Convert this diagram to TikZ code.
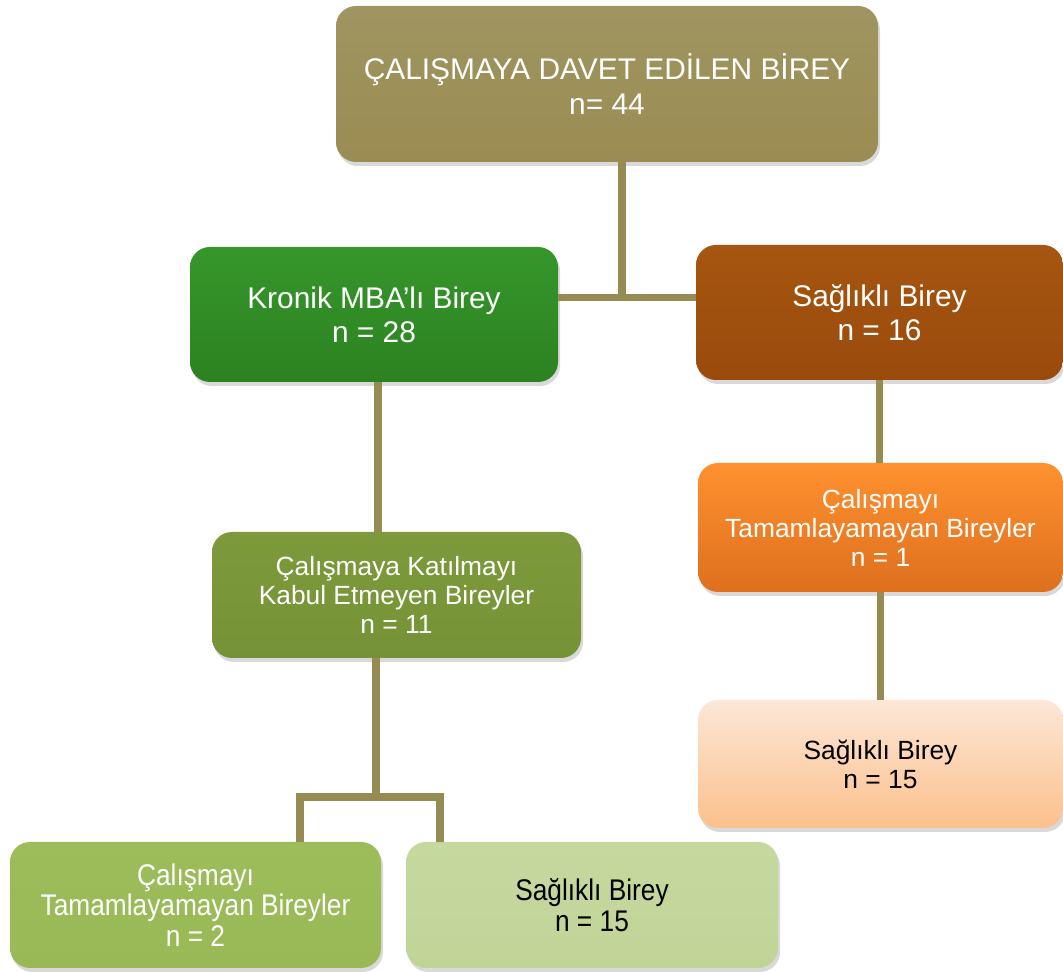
\documentclass[tikz,border=0pt]{standalone}
\usepackage{fontspec}
\setmainfont{Liberation Sans}
\newfontfamily\narrowfont{Liberation Sans}[FakeStretch=0.88]
\usepackage{tikz}
\usetikzlibrary{shadows}
\usepackage{xcolor}

\definecolor{linkcol}{HTML}{968B53}
\definecolor{olivetop}{HTML}{A09561}
\definecolor{olivebot}{HTML}{9A8C52}
\definecolor{greentop}{HTML}{36962B}
\definecolor{greenbot}{HTML}{2C8221}
\definecolor{browntop}{HTML}{A65610}
\definecolor{brownbot}{HTML}{9A4A0C}
\definecolor{mossTop}{HTML}{7C9A3C}
\definecolor{mossBot}{HTML}{769236}
\definecolor{orangetop}{HTML}{FF912F}
\definecolor{orangebot}{HTML}{DE6F1E}
\definecolor{peachtop}{HTML}{FDE7D6}
\definecolor{peachbot}{HTML}{FBC08C}
\definecolor{limetop}{HTML}{9DBD5B}
\definecolor{limebot}{HTML}{99B856}
\definecolor{paletop}{HTML}{C5D89E}
\definecolor{palebot}{HTML}{C1D498}

\begin{document}
\begin{tikzpicture}[
    box/.style={rounded corners=0.4cm, align=center, text=white,
      font=\fontsize{17}{19.5}\selectfont, inner sep=0pt,
      drop shadow={opacity=0.3, shadow xshift=0.04cm, shadow yshift=-0.08cm}},
    small/.style={font=\fontsize{15}{16.5}\selectfont},
    narrow/.style={font=\narrowfont\fontsize{17}{17.5}\selectfont},
    link/.style={draw=linkcol, line width=4pt, line join=miter}]
  \useasboundingbox (0,0) rectangle (21.26,-19.44);

  \node[box, minimum width=10.84cm, minimum height=3.12cm,
    top color=olivetop, bottom color=olivebot] (top) at (12.14,-1.68)
    {ÇALIŞMAYA DAVET EDİLEN BİREY\\n= 44};

  \node[box, minimum width=7.36cm, minimum height=2.7cm,
    top color=greentop, bottom color=greenbot] (kronik) at (7.48,-6.29)
    {Kronik MBA’lı Birey\\n = 28};
  \node[box, minimum width=7.34cm, minimum height=2.7cm,
    top color=browntop, bottom color=brownbot] (saglik) at (17.59,-6.25)
    {Sağlıklı Birey\\n = 16};

  \node[box, small, minimum width=7.38cm, minimum height=2.52cm,
    top color=mossTop, bottom color=mossBot] (katil) at (7.93,-11.9)
    {Çalışmaya Katılmayı\\Kabul Etmeyen Bireyler\\n = 11};
  \node[box, small, minimum width=7.3cm, minimum height=2.58cm,
    top color=orangetop, bottom color=orangebot] (tamam1) at (17.61,-10.55)
    {Çalışmayı\\Tamamlayamayan Bireyler\\n = 1};
  \node[box, small, text=black, minimum width=7.3cm, minimum height=2.56cm,
    top color=peachtop, bottom color=peachbot] (saglik15r) at (17.61,-15.28)
    {Sağlıklı Birey\\n = 15};

  \node[box, narrow, minimum width=7.42cm, minimum height=2.52cm,
    top color=limetop, bottom color=limebot] (tamam2) at (3.91,-18.1)
    {Çalışmayı\\Tamamlayamayan Bireyler\\n = 2};
  \node[box, narrow, text=black, minimum width=7.44cm, minimum height=2.52cm,
    top color=paletop, bottom color=palebot] (saglik15l) at (11.84,-18.1)
    {Sağlıklı Birey\\n = 15};

  % connectors
  \coordinate (j1) at (12.44,-5.95);
  \coordinate (c1) at (7.56,0);
  \coordinate (j2) at (7.52,-15.94);
  \coordinate (j2l) at (6.0,-15.94);
  \coordinate (j2r) at (8.8,-15.94);

  \draw[link] (top.south -| j1) -- (j1);
  \draw[link] (kronik.east |- j1) -- (saglik.west |- j1);
  \draw[link] (kronik.south -| c1) -- (katil.north -| c1);
  \draw[link] (saglik.south) -- (saglik.south |- tamam1.north);
  \draw[link] (tamam1.south) -- (tamam1.south |- saglik15r.north);
  \draw[link] (katil.south -| j2) -- (j2);
  \draw[link] (j2l |- tamam2.north) -- (j2l) -- (j2r) -- (j2r |- saglik15l.north);
\end{tikzpicture}
\end{document}
